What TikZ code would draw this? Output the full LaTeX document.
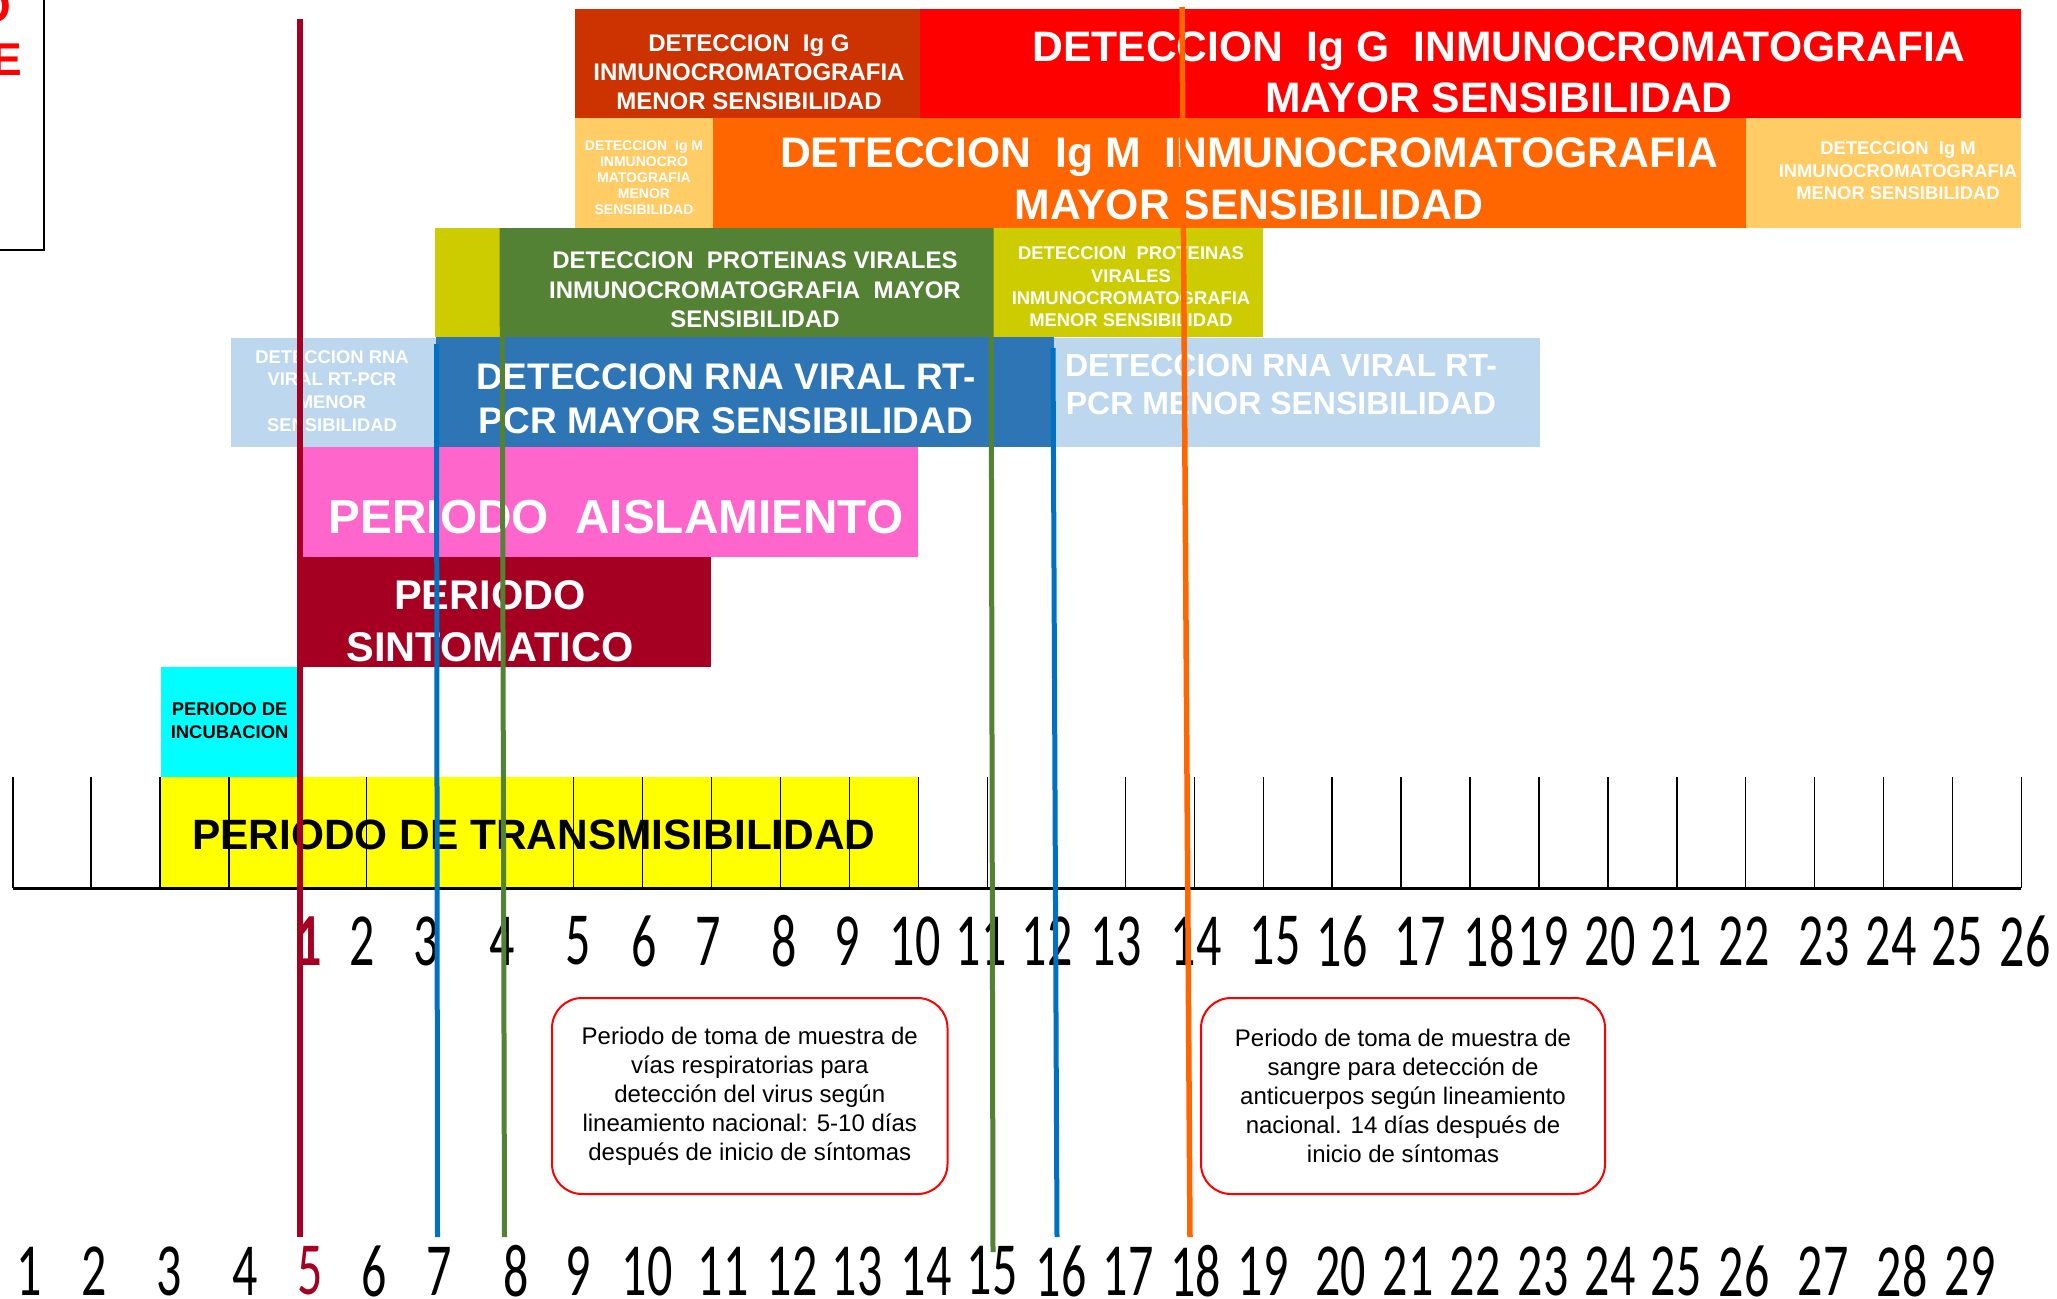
\documentclass[tikz,border=0pt]{standalone}
\usepackage{fontspec}
\usepackage{graphicx}
\usepackage{tikz}
\setmainfont{Liberation Sans}
\newfontfamily\numfont{Carlito}
\definecolor{igglow}{HTML}{CC3300}
\definecolor{igghigh}{HTML}{FF0000}
\definecolor{igmlow}{HTML}{FFCC66}
\definecolor{igmhigh}{HTML}{FF6600}
\definecolor{protlow}{HTML}{CCCC00}
\definecolor{prothigh}{HTML}{548235}
\definecolor{rnalow}{HTML}{BDD7EE}
\definecolor{rnahigh}{HTML}{2E75B6}
\definecolor{aisla}{HTML}{FF66CC}
\definecolor{sinto}{HTML}{A50021}
\definecolor{incub}{HTML}{00FFFF}
\definecolor{transm}{HTML}{FFFF00}
\definecolor{lineblue}{HTML}{0070C0}
\newcommand{\fsz}[2]{\fontsize{#1}{#2}\selectfont}

\begin{document}
\begin{tikzpicture}[x=1pt,y=-1pt,line width=1.3pt,
  wlbl/.style={text=white,align=center,inner sep=0pt},
  blbl/.style={text=black,align=center,inner sep=0pt},
  num/.style={inner sep=0pt,font=\numfont\fsz{50}{60}},
  callout/.style={draw=red,line width=2pt,rounded corners=30pt,align=center,font=\fsz{24}{29}}]
  \useasboundingbox (0,0) rectangle (2057,1299);
  \fill[igglow] (575,9) rectangle (920,118);
  \fill[igghigh] (920,9) rectangle (2021,118);
  \fill[igmlow] (575,118) rectangle (713,228);
  \fill[igmhigh] (713,118) rectangle (1746,228);
  \fill[igmlow] (1746,118) rectangle (2021,228);
  \fill[protlow] (435,228) rectangle (500,337);
  \fill[prothigh] (500,228) rectangle (991,337);
  \fill[protlow] (991,228) rectangle (1263,337);
  \fill[rnalow] (231,338) rectangle (436,447);
  \fill[rnahigh] (436,337) rectangle (1054,447);
  \fill[rnalow] (1054,338) rectangle (1540,447);
  \fill[aisla] (303,447) rectangle (918,557);
  \fill[sinto] (297,557) rectangle (711,667);
  \fill[incub] (161,667) rectangle (297,777);
  \fill[transm] (161,777) rectangle (918,888);
  \draw[line width=2.5pt] (-10,-10) rectangle (44,250);
  \node[text=red,inner sep=0pt,font=\bfseries\fsz{46}{55}] (cutO) at (-6.4,6.5) {O};
  \node[text=red,inner sep=0pt,font=\bfseries\fsz{46}{55}] (cutE) at (6.5,59.5) {E};
  \draw[line width=3pt] (13,888) -- (2021,888);
  \draw (13,777) -- (13,888);
  \foreach \k in {0,...,28} \draw ({91+68.95*\k},777) -- ({91+68.95*\k},888);
  \node[wlbl,font=\bfseries\fsz{24}{29}] (iggmenor) at (749,72.4) {DETECCION~~Ig G\\INMUNOCROMATOGRAFIA\\MENOR SENSIBILIDAD};
  \node[wlbl,font=\bfseries\fsz{42.6}{51}] (iggmayor) at (1499,72.2) {DETECCION~~Ig G~~INMUNOCROMATOGRAFIA\\MAYOR SENSIBILIDAD};
  \node[wlbl,font=\bfseries\fsz{14}{15.9}] (igmmenorA) at (644,177.4) {DETECCION~~Ig M\\INMUNOCRO\\MATOGRAFIA\\MENOR\\SENSIBILIDAD};
  \node[wlbl,font=\bfseries\fsz{42.7}{52}] (igmmayor) at (1249,179) {DETECCION~~Ig M~~INMUNOCROMATOGRAFIA\\MAYOR SENSIBILIDAD};
  \node[wlbl,font=\bfseries\fsz{18.4}{22.5}] (igmmenorB) at (1898,170.9) {DETECCION~~Ig M\\INMUNOCROMATOGRAFIA\\MENOR SENSIBILIDAD};
  \node[wlbl,font=\bfseries\fsz{24}{29.2}] (protmayor) at (755,289.9) {DETECCION~~PROTEINAS VIRALES\\INMUNOCROMATOGRAFIA~~MAYOR\\SENSIBILIDAD};
  \node[wlbl,font=\bfseries\fsz{18.4}{22.2}] (protmenor) at (1131,286.8) {DETECCION~~PROTEINAS\\VIRALES\\INMUNOCROMATOGRAFIA\\MENOR SENSIBILIDAD};
  \node[wlbl,font=\bfseries\fsz{18.4}{22.7}] (rnamenorA) at (332,390.9) {DETECCION RNA\\VIRAL RT-PCR\\MENOR\\SENSIBILIDAD};
  \node[wlbl,font=\bfseries\fsz{37}{44.4}] (rnamayor) at (726,398.7) {DETECCION RNA VIRAL RT-\\PCR MAYOR SENSIBILIDAD};
  \node[wlbl,font=\bfseries\fsz{32}{38.4}] (rnamenorB) at (1281,384.4) {DETECCION RNA VIRAL RT-\\PCR MENOR SENSIBILIDAD};
  \node[wlbl,font=\bfseries\fsz{47.7}{56}] (aislamiento) at (616,516.7) {PERIODO~~AISLAMIENTO};
  \node[wlbl,font=\bfseries\fsz{41.5}{51.7}] (sintomatico) at (490,621) {PERIODO\\SINTOMATICO};
  \node[blbl,font=\bfseries\fsz{18.4}{23.3}] (incubacion) at (229.6,721) {PERIODO DE\\INCUBACION};
  \node[blbl,font=\bfseries\fsz{42.4}{51}] (transmision) at (534,835) {PERIODO DE TRANSMISIBILIDAD};
  \node[num,text=sinto,font=\numfont\bfseries\fsz{50}{60}] (top1) at (309,941) {\scalebox{1}[1.5]{1}};
  \foreach \n/\x in {2/362,3/426,4/502,5/578,6/644,7/708,8/784,9/847,10/915,11/981,12/1047,13/1116,14/1196,15/1275,16/1342,17/1420,18/1489,19/1543,20/1610,21/1676,22/1744,23/1824,24/1891,25/1957,26/2025}
    \node[num] (top\n) at (\x,941) {\scalebox{1}[1.5]{\n}};
  \node[num,text=sinto] (bot5) at (310,1271) {\scalebox{1}[1.5]{5}};
  \foreach \n/\x in {1/29.6,2/94,3/169.5,4/245,6/374.5,7/439,8/516,9/578,10/647,11/723,12/792,13/857,14/926,15/992,16/1061,17/1128,18/1195.5,19/1263,20/1340.5,21/1408,22/1475,23/1543,24/1610,25/1676,26/1744,27/1823,28/1902,29/1970}
    \node[num] (bot\n) at (\x,1271) {\scalebox{1}[1.5]{\n}};
  \node[callout,minimum width=395.5pt,minimum height=196pt] (vias) at (749.75,1096) {Periodo de toma de muestra de\\v\'ias respiratorias para\\detecci\'on del virus seg\'un\\lineamiento nacional: 5-10 d\'ias\\despu\'es de inicio de s\'intomas};
  \node[callout,minimum width=404pt,minimum height=196pt] (sangre) at (1403,1096) {Periodo de toma de muestra de\\sangre para detecci\'on de\\anticuerpos seg\'un lineamiento\\nacional. 14 d\'ias despu\'es de\\inicio de s\'intomas};
  \draw[sinto,line width=6pt] (300,19) -- (300,1237);
  \draw[lineblue,line width=5pt] (436.5,344) -- (437.5,1237);
  \draw[prothigh,line width=5pt] (502,228) -- (504.5,1237);
  \draw[prothigh,line width=5pt] (991,228) -- (993,1252);
  \draw[lineblue,line width=5pt] (1053,348) -- (1057,1237);
  \draw[igmhigh,line width=5.5pt] (1182,7) -- (1190,1237);
\end{tikzpicture}
\end{document}
